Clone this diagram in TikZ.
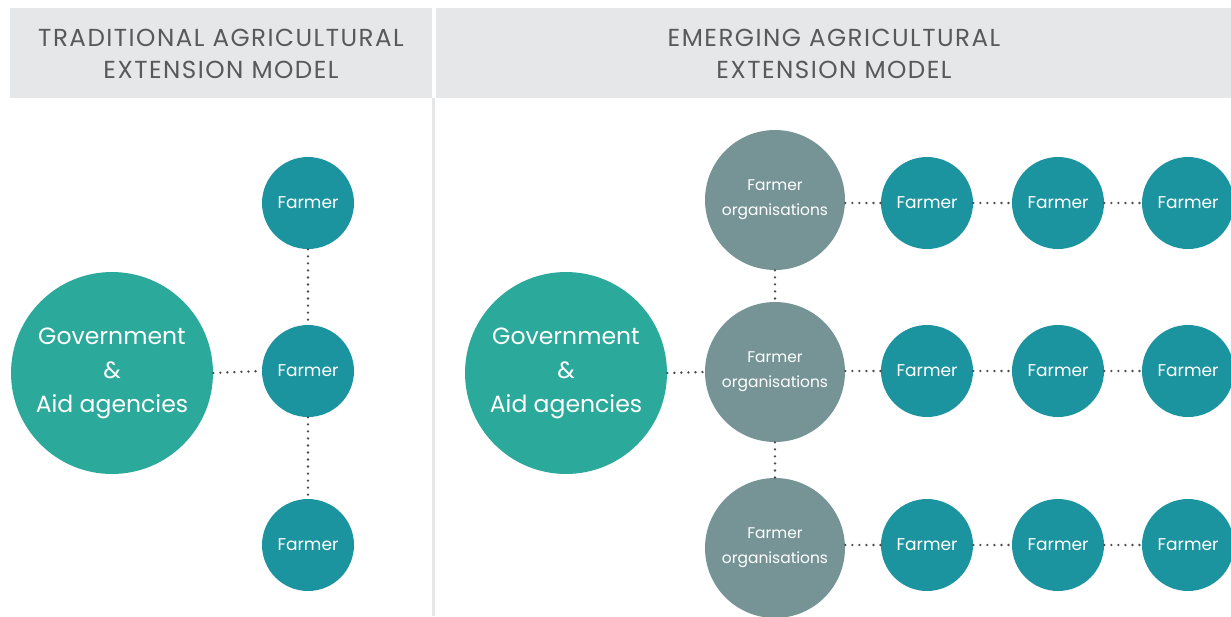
\documentclass[tikz,border=0pt]{standalone}
\usepackage{fontspec}
\setmainfont{Poppins}
\usetikzlibrary{positioning}

\definecolor{govgreen}{HTML}{2BA99B}
\definecolor{farmerteal}{HTML}{1C94A0}
\definecolor{orggrey}{HTML}{769496}
\definecolor{headgrey}{HTML}{E6E7E8}
\definecolor{headtext}{HTML}{58595B}
\definecolor{dotgrey}{HTML}{4D4D4F}

\begin{document}
\begin{tikzpicture}[
          x=0.02cm, y=-0.02cm,
          govnode/.style={circle, fill=govgreen, text=white, minimum size=4.04cm, inner sep=0pt, align=center, font=\fontsize{13.4}{19.3}\selectfont},
          farmernode/.style={circle, fill=farmerteal, text=white, minimum size=1.84cm, inner sep=0pt, align=center, font=\fontsize{9.7}{12}\selectfont},
          orgnode/.style={circle, fill=orggrey, text=white, minimum size=2.8cm, inner sep=0pt, align=center, font=\fontsize{8.8}{14.2}\selectfont},
          headtitle/.style={align=center, text=headtext, font=\fontsize{14}{18.2}\selectfont\addfontfeature{LetterSpace=6}},
          dotline/.style={draw=dotgrey, line width=1.5pt, line cap=round, dash pattern=on 0pt off 4pt}
        ]
        \clip (0, 0) rectangle (1231, 616);

        % ----------------------------------------------------
        % HEADERS
        % ----------------------------------------------------
        \fill[headgrey] (10, 8) rectangle (432, 98);
        \fill[headgrey] (436, 8) rectangle (1231, 98);
        \draw[headgrey, line width=1.2pt] (433.5, 98) -- (433.5, 616);
        \node[headtitle] (head-trad) at (221, 54) {TRADITIONAL AGRICULTURAL\\EXTENSION MODEL};
        \node[headtitle] (head-emer) at (834, 54) {EMERGING AGRICULTURAL\\EXTENSION MODEL};

        % ----------------------------------------------------
        % TRADITIONAL MODEL
        % ----------------------------------------------------
        \node[govnode] (gov-trad) at (112, 373) {Government\\\&\\Aid agencies};
        \node[farmernode] (ft-1) at (308, 203) {Farmer};
        \node[farmernode] (ft-2) at (308, 371) {Farmer};
        \node[farmernode] (ft-3) at (308, 545) {Farmer};

        \draw[dotline] (gov-trad.east) -- (ft-2.west);
        \draw[dotline] (ft-1.south) -- (ft-2.north);
        \draw[dotline] (ft-2.south) -- (ft-3.north);

        % ----------------------------------------------------
        % EMERGING MODEL
        % ----------------------------------------------------
        \node[govnode] (gov-emer) at (566, 373) {Government\\\&\\Aid agencies};
        \node[orgnode] (org-1) at (775, 200) {Farmer\\organisations};
        \node[orgnode] (org-2) at (775, 372) {Farmer\\organisations};
        \node[orgnode] (org-3) at (775, 548) {Farmer\\organisations};

        \draw[dotline] (gov-emer.east) -- (org-2.west);
        \draw[dotline] (org-1.south) -- (org-2.north);
        \draw[dotline] (org-2.south) -- (org-3.north);

        \foreach \row/\y in {1/203, 2/371, 3/545} {
          \node[farmernode] (fe-\row-1) at (927, \y) {Farmer};
          \node[farmernode] (fe-\row-2) at (1058, \y) {Farmer};
          \node[farmernode] (fe-\row-3) at (1188, \y) {Farmer};
          \draw[dotline] (org-\row.east |- fe-\row-1.west) -- (fe-\row-1.west);
          \draw[dotline] (fe-\row-1.east) -- (fe-\row-2.west);
          \draw[dotline] (fe-\row-2.east) -- (fe-\row-3.west);
        }
      \end{tikzpicture}
\end{document}
